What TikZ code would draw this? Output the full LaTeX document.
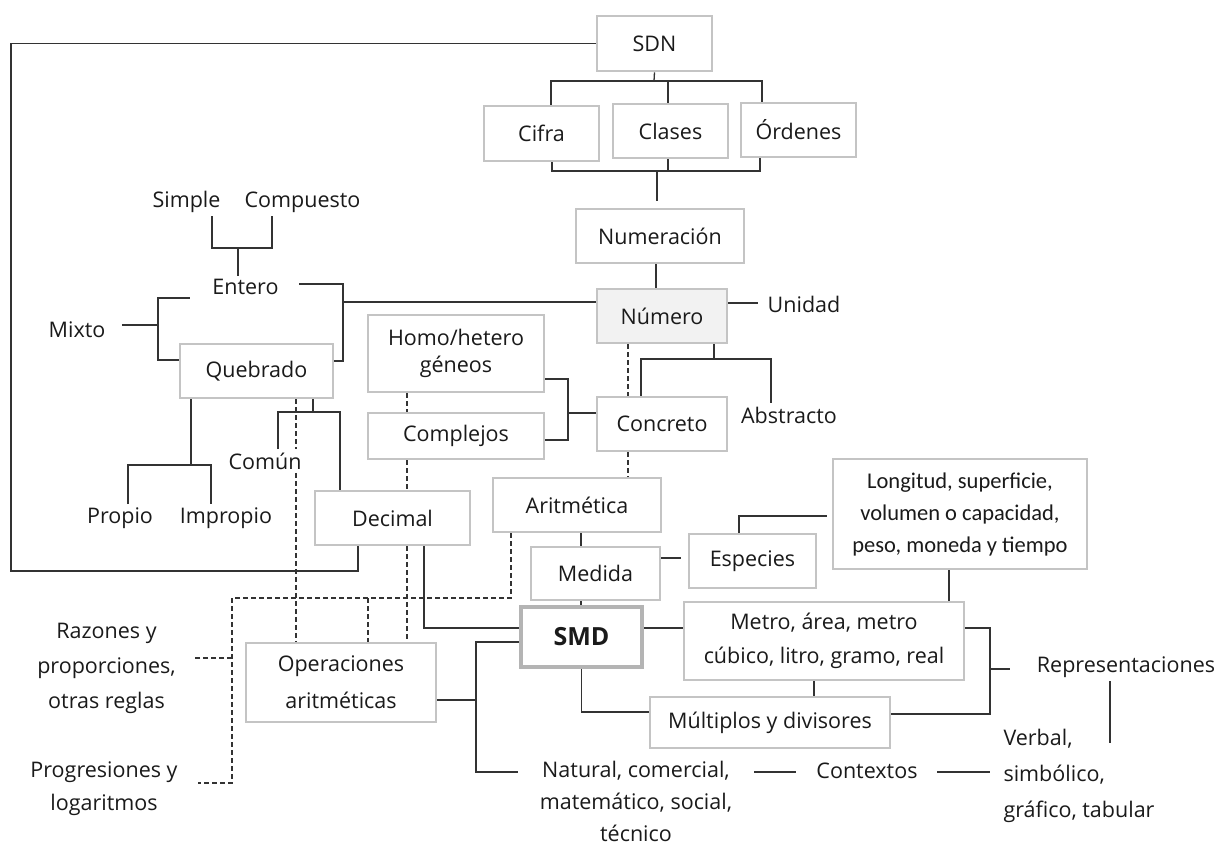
\documentclass[tikz,border=0pt]{standalone}
\usepackage{fontspec}
\setmainfont{Open Sans}
\newfontfamily\calfont{Carlito}
\usetikzlibrary{calc}
\definecolor{boxline}{HTML}{C4C4C4}
\definecolor{ink}{HTML}{1A1A1A}
\definecolor{wirec}{HTML}{333333}
\definecolor{numfill}{HTML}{F2F2F2}

\begin{document}
\begin{tikzpicture}[x=1pt,y=-1pt,
  every node/.style={text=ink, font=\fontsize{21.5}{34}\selectfont},
  box/.style={draw=boxline, line width=2.6pt, fill=white, align=center, inner sep=0pt},
  wire/.style={draw=wirec, line width=1.3pt},
  dwire/.style={wire, dash pattern=on 5pt off 3pt},
]
\useasboundingbox (0,0) rectangle (1223,848);

% ---------- boxed concepts ----------
\node[box, minimum width=115pt, minimum height=55pt] (sdn) at (654.5,43.5) {SDN};
\node[box, minimum width=115pt, minimum height=55pt] (cifra) at (541.5,133.5) {Cifra};
\node[box, minimum width=115pt, minimum height=54pt] (clases) at (670.5,131) {Clases};
\node[box, minimum width=115pt, minimum height=54pt] (ordenes) at (798.5,130) {Órdenes};
\node[box, minimum width=168pt, minimum height=54pt] (numeracion) at (660,236) {Numeración};
\node[box, fill=numfill, minimum width=130pt, minimum height=54pt] (numero) at (662,316) {Número};
\node[box, minimum width=176pt, minimum height=77pt, font=\fontsize{21.5}{27}\selectfont] (homo) at (456,353.5) {Homo/hetero\\géneos};
\node[box, minimum width=176pt, minimum height=46pt] (complejos) at (456,436) {Complejos};
\node[box, minimum width=130pt, minimum height=54pt] (concreto) at (662,424) {Concreto};
\node[box, minimum width=153pt, minimum height=54pt] (quebrado) at (256.5,371) {Quebrado};
\node[box, minimum width=155pt, minimum height=54pt] (decimal) at (392.5,518) {Decimal};
\node[box, minimum width=168pt, minimum height=54pt] (aritmetica) at (577,505) {Aritmética};
\node[box, minimum width=129pt, minimum height=53pt] (medida) at (595.5,573.5) {Medida};
\node[box, minimum width=127pt, minimum height=54pt] (especies) at (752.5,561) {Especies};
\node[box, minimum width=254pt, minimum height=110pt, font=\calfont\fontsize{22.5}{32}\selectfont] (longitud) at (960,514) {Longitud, superficie,\\volumen o capacidad,\\peso, moneda y tiempo};
\node[box, line width=4.5pt, draw=boxline!92!black, minimum width=121pt, minimum height=60pt, font=\fontsize{25}{30}\selectfont\bfseries] (smd) at (581.5,637) {SMD};
\node[box, minimum width=280pt, minimum height=78pt] (metro) at (824,641) {Metro, área, metro\\cúbico, litro, gramo, real};
\node[box, minimum width=240pt, minimum height=51pt] (multiplos) at (770,722.5) {Múltiplos y divisores};
\node[box, minimum width=190pt, minimum height=79pt, font=\fontsize{21.5}{37}\selectfont] (operaciones) at (341,682.5) {Operaciones\\aritméticas};

% ---------- plain labels ----------
\node (unidad) at (804,304) {Unidad};
\node (abstracto) at (789,415) {Abstracto};
\node (entero) at (245.5,287) {Entero};
\node (simple) at (186.5,202) {Simple};
\node (compuesto) at (302.5,202) {Compuesto};
\node (mixto) at (77,330) {Mixto};
\node (propio) at (120,518) {Propio};
\node (impropio) at (226,518) {Impropio};
\node (comun) at (265,461) {Común};
\node[align=center, font=\fontsize{21.5}{35}\selectfont] (razones) at (106.5,668) {Razones y\\proporciones,\\otras reglas};
\node[align=center, font=\fontsize{21.5}{33}\selectfont] (progresiones) at (104,789) {Progresiones y\\logaritmos};
\node[align=center, inner sep=0pt, font=\fontsize{21.5}{32}\selectfont] (natural) at (636,801) {Natural, comercial,\\matemático, social,\\técnico};
\node (contextos) at (867,771) {Contextos};
\node (representaciones) at (1126,667) {Representaciones};
\node[align=left, anchor=west, font=\fontsize{21.5}{36}\selectfont] (verbal) at (1000,776) {Verbal,\\simbólico,\\gráfico, tabular};

% ---------- outer frame from SDN to Decimal ----------
\coordinate (frameBL) at (11,571);
\coordinate (frameBR) at (358,571);
\draw[wire] (sdn.west) -| (frameBL) -| (decimal.south -| frameBR);

% ---------- SDN and its three parts ----------
\coordinate (sdnbar) at (654,81);
\draw[wire] (sdn.south) -- (sdnbar);
\path ([xshift=9.5pt]cifra.north) coordinate (cfN);
\path ([xshift=-36.5pt]ordenes.north) coordinate (orN);
\path ([xshift=-2.5pt]clases.north) coordinate (clN);
\draw[wire] (cfN) |- (sdnbar) -| (orN);
\draw[wire] (clN) |- (sdnbar);

\coordinate (cbar) at (657,171);
\path ([xshift=10.5pt]cifra.south) coordinate (cfS);
\path ([xshift=-38.5pt]ordenes.south) coordinate (orS);
\path ([xshift=-2.5pt]clases.south) coordinate (clS);
\draw[wire] (cfS) |- (cbar) -| (orS);
\draw[wire] (clS) |- (cbar);
\draw[wire, shorten >=7pt] (cbar) -- (cbar |- numeracion.north);

% ---------- Numeración, Número ----------
\coordinate (nn) at (656,0);
\draw[wire] (nn |- numeracion.south) -- (nn |- numero.north);
\path ([yshift=13pt]numero.east) coordinate (nuE);
\draw[wire, shorten >=6pt] (nuE) -- (nuE -| unidad.west);

% Entero / Quebrado bracket
\coordinate (ebx) at (343,302);
\path ([yshift=3pt]entero.east) coordinate (enE);
\path ([yshift=10pt]quebrado.east) coordinate (qbE);
\draw[wire, shorten <=17pt] (enE) -| (ebx) |- (qbE);
\path ([yshift=14pt]numero.west) coordinate (nuW);
\draw[wire] (nuW) -- (ebx);

% Simple / Compuesto
\coordinate (scb) at (238,248);
\path ([xshift=25.5pt]simple.south) coordinate (siS);
\path ([xshift=-30.5pt]compuesto.south) coordinate (coS);
\draw[wire] (siS) |- (scb) -| (coS);
\draw[wire] (scb) -- (scb |- entero.north);

% Mixto
\coordinate (mb) at (158,325);
\path ([yshift=-11pt]entero.west) coordinate (enW);
\path ([yshift=11pt]quebrado.west) coordinate (qbW);
\path ([yshift=5pt]mixto.east) coordinate (mxE);
\draw[wire, shorten >=19pt] (mb) |- (enW);
\draw[wire] (mb) |- (qbW);
\draw[wire, shorten <=13pt] (mxE) -- (mb);

% Propio / Impropio
\coordinate (pib) at (191,465);
\path ([xshift=-65.5pt]quebrado.south) coordinate (qbS1);
\draw[wire] (qbS1) -- (pib);
\path ([xshift=8pt]propio.north) coordinate (prN);
\path ([xshift=-15pt]impropio.north) coordinate (imN);
\draw[wire] (prN) |- (pib) -| (imN);

% Común / Decimal
\coordinate (qcd) at (313,412);
\path ([xshift=56.5pt]quebrado.south) coordinate (qbS2);
\draw[wire] (qbS2) -- (qcd);
\path ([xshift=13pt]comun.north) coordinate (cmN);
\path ([xshift=-52.5pt]decimal.north) coordinate (deN);
\draw[wire] (cmN) |- (qcd) -| (deN);

% ---------- dashed links to the operations ----------
\coordinate (dq) at (296,0);
\draw[dwire] (dq |- quebrado.south) -- (dq |- comun.north)
             (dq |- comun.south) -- (dq |- operaciones.north);
\coordinate (dl) at (232,598);
\path ([xshift=-66pt]aritmetica.south) coordinate (arS);
\path ([yshift=6pt]progresiones.east) coordinate (pgE);
\draw[dwire, shorten >=17pt] (arS) |- (dl) |- (pgE);
\path ([yshift=10pt]razones.east) coordinate (rzE);
\draw[dwire, shorten >=16pt] (rzE -| dl) -- (rzE);
\coordinate (d368) at (368,598);
\draw[dwire] (d368) -- (d368 |- operaciones.north);
\coordinate (dc) at (407,0);
\draw[dwire] (dc |- homo.south) -- (dc |- complejos.north)
             (dc |- complejos.south) -- (dc |- decimal.north)
             (dc |- decimal.south) -- (dc |- operaciones.north);
\coordinate (dn) at (628,0);
\draw[dwire] (dn |- numero.south) -- (dn |- concreto.north)
             (dn |- concreto.south) -- (dn |- aritmetica.north);

% ---------- Concreto / Abstracto ----------
\coordinate (nca) at (714,359);
\draw[wire] (nca |- numero.south) -- (nca);
\path ([xshift=-21pt]concreto.north) coordinate (ccN);
\path ([xshift=-18pt]abstracto.north) coordinate (abN);
\draw[wire] (ccN) |- (nca) -| (abN);

\coordinate (hcc) at (568,413);
\path ([yshift=-25.5pt]homo.east) coordinate (hoE);
\path ([yshift=-4pt]complejos.east) coordinate (cxE);
\draw[wire] (hoE) -| (hcc) |- (cxE);
\draw[wire] (hcc) -- (hcc -| concreto.west);

% ---------- Aritmética, Medida, SMD ----------
\coordinate (am) at (581,0);
\draw[wire] (am |- aritmetica.south) -- (am |- medida.north);
\draw[wire] (am |- medida.south) -- (am |- smd.north);
\path ([yshift=15.5pt]medida.east) coordinate (mdE);
\draw[wire, shorten >=7pt] (mdE) -- (mdE -| especies.west);
\path ([xshift=-13.5pt]especies.north) coordinate (esN);
\path ([yshift=-2pt]longitud.west) coordinate (lgW);
\draw[wire, shorten >=5pt] (esN) |- (lgW);
\coordinate (lm) at (949,0);
\draw[wire] (lm |- longitud.south) -- (lm |- metro.north);

\path ([xshift=31.5pt]decimal.south) coordinate (dcS);
\path ([yshift=9pt]smd.west) coordinate (smW1);
\draw[wire] (dcS) |- (smW1);

\coordinate (so) at (476,700);
\coordinate (natL) at (518,772);
\path ([yshift=-5pt]smd.west) coordinate (smW2);
\draw[wire] (smW2) -| (so) |- (natL);
\draw[wire] (operaciones.east |- so) -- (so);

\path ([yshift=9pt]smd.east) coordinate (smE);
\draw[wire] (smE) -- (smE -| metro.west);
\path ([yshift=10.5pt]multiplos.west) coordinate (mlW);
\draw[wire] (smd.south) |- (mlW);
\coordinate (mm) at (814,0);
\draw[wire] (mm |- metro.south) -- (mm |- multiplos.north);

% ---------- Representaciones and Contextos ----------
\coordinate (rb) at (990,669);
\path ([yshift=13pt]metro.east) coordinate (meE);
\path ([yshift=8.5pt]multiplos.east) coordinate (mlE);
\draw[wire] (meE) -| (rb) |- (mlE);
\draw[wire, shorten >=23pt] (rb) -- (rb -| representaciones.west);
\coordinate (rv) at (1110,743);
\draw[wire] (rv |- representaciones.south) -- (rv);

\coordinate (ctx) at (0,772);
\draw[wire, shorten <=22pt, shorten >=17pt] (ctx -| natural.east) -- (ctx -| contextos.west);
\draw[wire, shorten <=16pt, shorten >=10pt] (ctx -| contextos.east) -- (ctx -| verbal.west);
\end{tikzpicture}
\end{document}
